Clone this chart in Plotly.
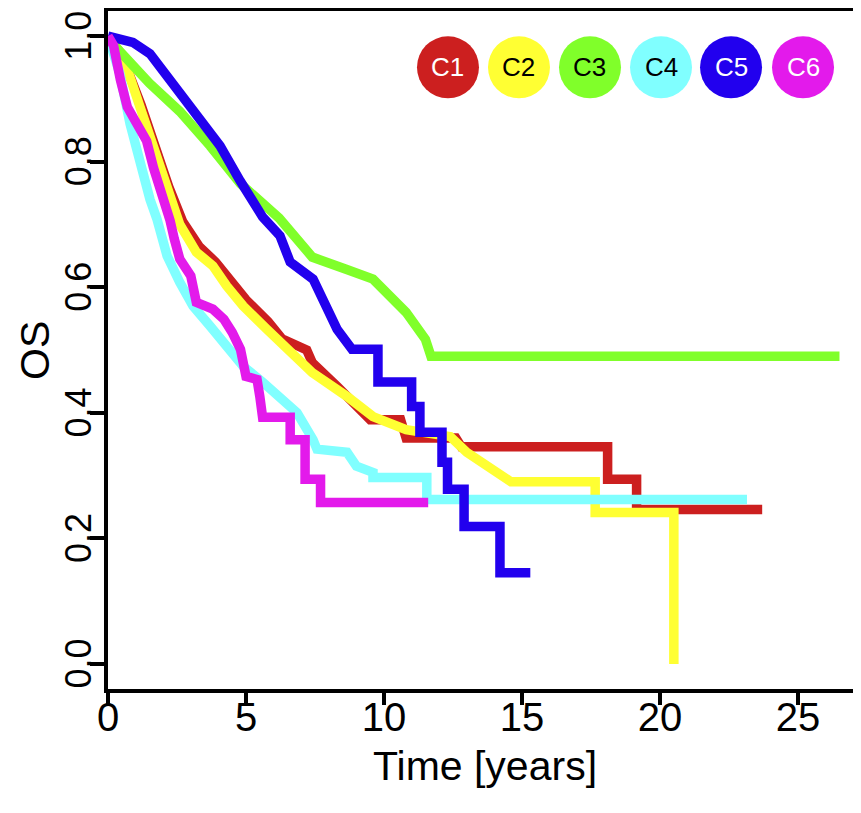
import plotly.graph_objects as go

# ---- data ----
groups = ["C1", "C2", "C3", "C4", "C5", "C6"]
colors = ["#CC1F1F", "#FFFF33", "#80FF2A", "#80FFFF", "#2200EE", "#E31AEB"]
label_colors = ["white", "black", "black", "black", "white", "white"]

c1_t = [0, 0.5, 1.2, 1.7, 2.2, 2.7, 3.3, 3.9, 4.4, 5.0, 5.8, 6.3, 7.2, 7.4, 8.3, 9.2, 9.5, 10.6, 10.8, 12.6, 12.8, 18.1, 18.1, 19.15, 19.15, 23.7]
c1_s = [1, 0.97, 0.89, 0.82, 0.76, 0.705, 0.665, 0.64, 0.61, 0.58, 0.545, 0.518, 0.50, 0.48, 0.442, 0.405, 0.389, 0.389, 0.36, 0.36, 0.346, 0.346, 0.294, 0.294, 0.246, 0.246]

c2_t = [0, 0.55, 1.16, 1.63, 2.14, 2.6, 3.2, 3.8, 4.3, 4.9, 5.76, 6.5, 7.4, 8.66, 9.6, 10.8, 12.4, 13.0, 13.7, 14.6, 17.65, 17.65, 20.5, 20.5]
c2_s = [1, 0.967, 0.887, 0.824, 0.765, 0.70, 0.656, 0.634, 0.602, 0.57, 0.533, 0.501, 0.464, 0.426, 0.394, 0.373, 0.362, 0.337, 0.315, 0.29, 0.29, 0.241, 0.241, 0.0]

c3_t = [0, 0.3, 1.5, 2.6, 3.7, 4.8, 6.2, 7.0, 7.4, 8.6, 9.6, 10.8, 11.5, 11.7, 26.5]
c3_s = [1, 0.982, 0.925, 0.88, 0.825, 0.765, 0.71, 0.666, 0.648, 0.629, 0.613, 0.56, 0.517, 0.49, 0.49]

c4_t = [0, 0.43, 0.8, 1.16, 1.52, 1.77, 2.14, 2.6, 3.08, 3.7, 4.3, 4.9, 5.6, 6.23, 6.85, 7.43, 7.57, 8.66, 9.0, 9.6, 9.6, 11.55, 11.55, 23.15]
c4_s = [1, 0.94, 0.86, 0.797, 0.74, 0.709, 0.65, 0.608, 0.57, 0.538, 0.506, 0.474, 0.449, 0.426, 0.40, 0.357, 0.342, 0.337, 0.315, 0.305, 0.297, 0.297, 0.262, 0.262]

c5_t = [0, 0.9, 1.52, 1.88, 2.6, 3.33, 4.06, 4.78, 5.6, 6.23, 6.6, 7.43, 7.93, 8.3, 8.84, 9.78, 9.78, 11.0, 11.0, 11.3, 11.3, 12.1, 12.1, 12.3, 12.3, 12.9, 12.9, 14.2, 14.2, 15.3]
c5_s = [1, 0.99, 0.972, 0.951, 0.915, 0.87, 0.825, 0.77, 0.712, 0.682, 0.64, 0.613, 0.57, 0.533, 0.501, 0.501, 0.449, 0.449, 0.41, 0.41, 0.369, 0.369, 0.321, 0.321, 0.278, 0.278, 0.219, 0.219, 0.145, 0.145]

c6_t = [0, 0.2, 0.45, 0.7, 1.05, 1.4, 1.65, 2.0, 2.25, 2.4, 2.6, 3.0, 3.2, 3.8, 4.2, 4.5, 4.8, 5.0, 5.4, 5.5, 5.6, 6.6, 6.6, 7.14, 7.14, 7.7, 7.7, 11.6]
c6_s = [1, 0.985, 0.93, 0.887, 0.86, 0.833, 0.79, 0.744, 0.706, 0.677, 0.645, 0.618, 0.576, 0.565, 0.549, 0.528, 0.501, 0.458, 0.453, 0.426, 0.393, 0.393, 0.357, 0.357, 0.294, 0.294, 0.257, 0.257]

times = [c1_t, c2_t, c3_t, c4_t, c5_t, c6_t]
surv = [c1_s, c2_s, c3_s, c4_s, c5_s, c6_s]

x_ticks = [0, 5, 10, 15, 20, 25]
y_ticks = [0.0, 0.2, 0.4, 0.6, 0.8, 1.0]
y_tick_labels = ["0.0", "0.2", "0.4", "0.6", "0.8", "1.0"]

FONT = "Liberation Sans, Arial, Helvetica, sans-serif"

fig = go.Figure()
for name, col, t, s in zip(groups, colors, times, surv):
    fig.add_trace(go.Scatter(x=t, y=s, mode="lines", name=name,
                             line=dict(color=col, width=9.5)))

# legend badges
badge_x = [0.4515, 0.5458, 0.6401, 0.7344, 0.8274, 0.9230]
badge_y = 0.917
for name, col, lc, bx in zip(groups, colors, label_colors, badge_x):
    fig.add_shape(type="circle", xref="paper", yref="paper",
                  xsizemode="pixel", ysizemode="pixel",
                  xanchor=bx, yanchor=badge_y,
                  x0=-31, x1=31, y0=-31, y1=31,
                  fillcolor=col, line=dict(width=0))
    fig.add_annotation(x=bx, y=badge_y, xref="paper", yref="paper",
                       xanchor="center", yanchor="middle",
                       text=name, showarrow=False,
                       font=dict(family=FONT, size=26, color=lc))

# axis titles
fig.add_annotation(x=0.5, y=-0.1136, xref="paper", yref="paper",
                   xanchor="center", yanchor="middle", showarrow=False,
                   text="Time [years]", font=dict(family=FONT, size=41, color="black"))
fig.add_annotation(x=-0.097, y=0.5, xref="paper", yref="paper",
                   xanchor="center", yanchor="middle", showarrow=False, textangle=-90,
                   text="OS", font=dict(family=FONT, size=41, color="black"))

# page body adds an 8px offset, so the figure is sized/margined to compensate
fig.update_layout(
    width=853, height=805,
    margin=dict(l=100, r=0, t=3, b=124),
    paper_bgcolor="white", plot_bgcolor="white",
    showlegend=False,
    font=dict(family=FONT, color="black"),
)
fig.update_xaxes(range=[0, 27.28], tickvals=x_ticks, ticks="outside", ticklen=12,
                 tickwidth=4, tickcolor="black", showline=True, linewidth=4,
                 linecolor="black", mirror=True, showgrid=False, zeroline=False,
                 tickfont=dict(size=40), automargin=False, ticklabelstandoff=-22,
                 ticklabeloverflow="allow")
fig.update_yaxes(range=[-0.04, 1.04], tickvals=y_ticks, ticktext=y_tick_labels,
                 tickangle=-90, ticks="outside", ticklen=14, tickwidth=4,
                 tickcolor="black", showline=True, linewidth=4, linecolor="black",
                 showgrid=False, zeroline=False, tickfont=dict(size=36),
                 automargin=False, ticklabelstandoff=-15, ticklabelshift=5,
                 ticklabeloverflow="allow")

fig.write_html("out.html")
